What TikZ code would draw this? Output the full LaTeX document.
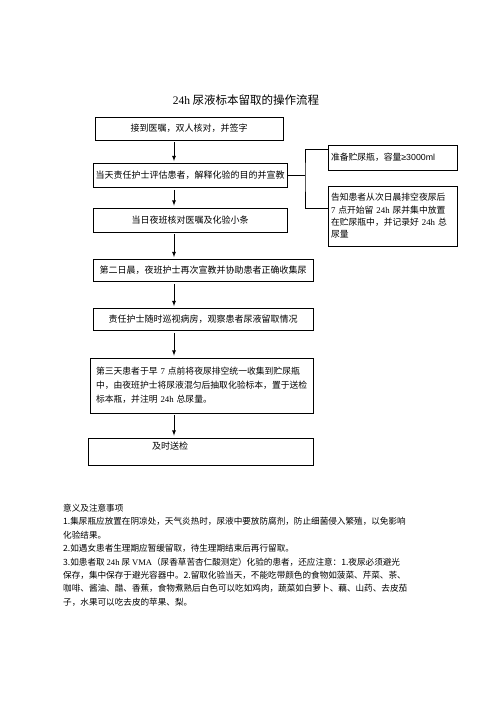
\documentclass[tikz,border=0pt]{standalone}
\usepackage{fontspec}
\setmainfont{Liberation Serif}
\newfontfamily\cjk{Noto Sans CJK SC}
\newfontfamily\arial{Liberation Sans}
\usepackage{tikz}
\usetikzlibrary{arrows}
\newcommand{\lat}[1]{{\rmfamily #1}}

\begin{document}
\begin{tikzpicture}[x=1pt,y=-1pt]
    \tikzset{
      box/.style={draw,line width=0.8pt,inner sep=0pt,
        font=\cjk\fontsize{9}{14}\selectfont},
      sidebox/.style={box,minimum width=129pt,text width=123pt,
        inner xsep=3pt,align=left,font=\cjk\fontsize{8.8}{12.4}\selectfont},
      flow/.style={-latex,line width=0.8pt},
    }
    \useasboundingbox (0,0) rectangle (496,702);
    \node[font=\cjk\fontsize{11.5}{14}\selectfont] (title) at (246,100)
      {\lat{24h} 尿液标本留取的操作流程};
    % main steps
    \node[box,minimum width=188pt,minimum height=23pt] (b1) at (189,128.5)
      {接到医嘱，双人核对，并签字};
    \node[box,minimum width=194pt,minimum height=24pt] (b2) at (190,175.5)
      {当天责任护士评估患者，解释化验的目的并宣教};
    \node[box,minimum width=194pt,minimum height=24pt] (b3) at (190,220)
      {当日夜班核对医嘱及化验小条};
    \node[box,minimum width=220pt,minimum height=22pt] (b4) at (203,270.5)
      {第二日晨，夜班护士再次宣教并协助患者正确收集尿};
    \node[box,minimum width=220pt,minimum height=22pt] (b5) at (203,319.5)
      {责任护士随时巡视病房，观察患者尿液留取情况};
    \node[box,minimum width=223pt,minimum height=55pt,text width=211pt,
      align=left,font=\cjk\fontsize{8.8}{14}\selectfont] (b6) at (201.5,385.5)
      {第三天患者于早 \lat{7} 点前将夜尿排空统一收集到贮尿瓶\\
       中，由夜班护士将尿液混匀后抽取化验标本，置于送检\\
       标本瓶，并注明 \lat{24h} 总尿量。};
    \node[box,minimum width=225pt,minimum height=27pt] (b7) at (200.5,451.5) {};
    \node[font=\cjk\fontsize{9}{14}\selectfont,anchor=west,inner sep=0pt]
      (t7) at (152,446) {及时送检};
    % arrows
    \coordinate (ax) at (174,0);
    \foreach \a/\b in {b1/b2,b2/b3,b3/b4,b4/b5,b5/b6,b6/b7}
      \draw[flow] ([yshift=-2pt]\a.south -| ax) -- ([yshift=2pt]\b.north -| ax);
    % side boxes
    \node[sidebox,minimum height=25pt] (r1) at (392.5,157.5)
      {准备贮尿瓶，容量\arial{≥3000ml}};
    \node[sidebox,minimum height=60pt] (r2) at (392.5,216)
      {告知患者从次日晨排空夜尿后\\
       \lat{7} 点开始留 \lat{24h} 尿并集中放置\\
       在贮尿瓶中，并记录好 \lat{24h} 总\\
       尿量};
    \coordinate (bk) at (305,175.5);
    \draw[line width=0.8pt] (b2.east) -- (bk);
    \draw[line width=0.8pt] ([yshift=8.5pt]r1.west) -| (bk) |- ([yshift=8pt]r2.west);
    % notes
    \node[anchor=north west,inner sep=0pt,align=left,
      font=\cjk\fontsize{8.6}{13.4}\selectfont] (notes) at (63,504)
      {意义及注意事项\\
       1.集尿瓶应放置在阴凉处，天气炎热时，尿液中要放防腐剂，防止细菌侵入繁殖，以免影响\\
       化验结果。\\
       2.如遇女患者生理期应暂缓留取，待生理期结束后再行留取。\\
       3.如患者取 \lat{24h} 尿 \lat{VMA}（尿香草苦杏仁酸测定）化验的患者，还应注意：1.夜尿必须避光\\
       保存，集中保存于避光容器中。2.留取化验当天，不能吃带颜色的食物如菠菜、芹菜、茶、\\
       咖啡、酱油、醋、香蕉，食物煮熟后白色可以吃如鸡肉，蔬菜如白萝卜、藕、山药、去皮茄\\
       子，水果可以吃去皮的苹果、梨。};
  \end{tikzpicture}
\end{document}
